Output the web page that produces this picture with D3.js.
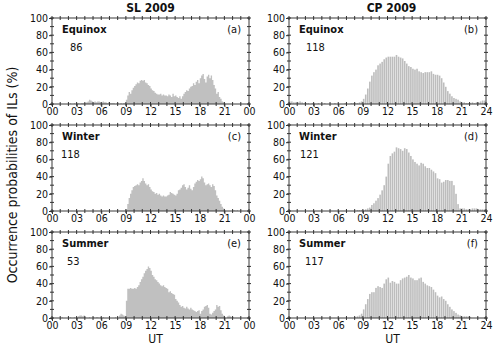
<!DOCTYPE html>
<html>
<head>
<meta charset="utf-8">
<script src="https://cdn.jsdelivr.net/npm/d3@7"></script>
<style>
body { margin: 0; background: #fff; }
text { font-family: "DejaVu Sans Condensed", "Liberation Sans", sans-serif; fill: #111; }
</style>
</head>
<body>
<svg id="chart" width="500" height="351"></svg>
<script>
/* SL 2009, 10-minute bins (6 per hour) */
var slEquinox = [
  0,0,0,0,0,0,  0,0,0,0,0,0,  0,1,0,0,1,0,  1,1,0,1,1,1,
  1,2,3,5,4,3,  2,3,2,3,3,2,  2,3,2,2,1,2,  1,1,1,1,0,1,
  1,0,1,0,1,1,  5,10,14,12,16,19,  21,23,25,24,27,28,  27,28,25,24,22,21,
  18,16,15,13,12,11,  11,12,10,11,10,10,  9,11,10,8,12,9,  10,8,7,9,6,9,
  12,14,16,15,18,20,  21,24,22,26,28,24,  30,33,35,29,25,32,  34,30,33,28,22,18,
  12,14,8,6,3,2,  1,0,0,0,0,0,  0,0,0,0,0,0,  0,0,0,0,0,0
];
var slWinter = [
  0,0,0,0,0,0,  0,0,0,0,0,0,  0,0,0,0,0,0,  0,0,0,0,0,0,
  0,0,0,0,0,0,  0,0,0,0,0,0,  0,0,0,0,0,0,  0,0,0,0,0,0,
  0,0,0,0,0,0,  2,8,15,20,24,28,  29,30,31,30,33,35,  38,35,32,30,31,28,
  25,23,22,20,21,19,  20,18,17,18,17,17,  18,19,22,21,20,19,  18,20,24,25,27,30,
  31,28,25,27,30,26,  24,28,32,34,36,35,  37,40,38,33,30,31,  32,30,28,31,29,24,
  18,15,12,8,5,3,  1,0,0,0,0,0,  1,1,0,1,0,0,  0,0,0,0,0,0
];
var slSummer = [
  0,0,0,0,0,0,  0,1,0,0,0,0,  0,1,0,0,1,0,  1,2,3,3,2,3,
  1,0,0,1,0,0,  1,0,1,1,0,1,  0,1,0,0,0,0,  0,0,0,0,1,0,
  0,3,5,4,3,2,  20,34,34,35,34,34,  35,34,36,38,42,45,  48,52,55,57,60,58,
  55,50,48,45,44,42,  40,38,37,38,36,35,  34,30,31,29,28,27,  22,20,18,15,13,14,
  12,11,13,11,10,12,  10,9,8,7,8,9,  5,8,10,13,14,15,  12,5,4,6,8,10,
  15,13,14,9,5,3,  1,0,2,3,2,1,  1,0,0,0,0,0,  0,0,0,0,0,0
];

/* CP 2009, 15-minute bins (4 per hour) */
var cpEquinox = [
  3,3,2,2,  2,3,2,1,  1,1,0,1,  1,0,1,0,  0,1,0,0,  0,0,1,0,
  0,0,0,1,  0,0,1,1,  1,1,2,3,  6,11,18,26,  33,37,40,45,  47,49,52,54,
  55,55,55,55,  57,55,54,53,  50,47,44,43,  41,40,41,38,  37,36,37,37,  37,38,35,34,
  34,33,30,25,  20,15,12,9,  7,6,5,3,  2,2,1,1,  1,2,1,2,  2,3,4,4
];
var cpWinter = [
  0,0,0,0,  0,0,0,0,  0,0,0,0,  0,0,0,0,  0,0,0,0,  0,0,0,0,
  0,0,0,0,  0,0,0,0,  0,1,1,1,  1,2,3,4,  7,9,12,15,  19,24,30,40,
  55,64,67,69,  74,73,72,70,  73,72,68,64,  60,57,55,53,  56,55,52,50,  50,48,46,44,
  38,37,33,34,  36,36,35,35,  30,20,8,3,  3,3,2,2,  2,3,3,3,  2,2,2,2
];
var cpSummer = [
  0,0,0,0,  0,0,0,0,  0,0,0,0,  0,0,0,0,  0,0,0,0,  0,0,0,0,
  0,0,0,0,  0,0,0,0,  1,2,3,5,  10,16,22,28,  30,30,35,37,  36,35,40,45,
  47,41,43,42,  40,40,44,46,  47,48,50,47,  46,44,44,46,  47,42,40,38,  37,36,33,30,
  26,24,25,22,  20,16,13,10,  8,6,4,3,  2,2,2,2,  1,0,0,0,  0,0,0,0
];

var columnTitles = ["SL 2009", "CP 2009"];
var seasons = ["Equinox", "Winter", "Summer"];
var slCounts = [86, 118, 53];
var cpCounts = [118, 121, 117];
var slLetters = ["(a)", "(c)", "(e)"];
var cpLetters = ["(b)", "(d)", "(f)"];
var yTicks = [0, 20, 40, 60, 80, 100];
var xTicks = [0, 3, 6, 9, 12, 15, 18, 21, 24];
var slXLabels = ["00", "03", "06", "09", "12", "15", "18", "21", "00"];
var cpXLabels = ["00", "03", "06", "09", "12", "15", "18", "21", "24"];

/* layout */
var colLeft = [52, 289];
var panelWidth = 197;
var rowTop = [18, 125, 232];
var panelHeight = 86;
/* where the count sits, per column / row */
var countOffset = [[18, 9, 15], [17, 11, 16]];

var svg = d3.select("#chart");

var columns = [
  { title: columnTitles[0], data: [slEquinox, slWinter, slSummer], counts: slCounts, letters: slLetters, labels: slXLabels, perHour: 6, solid: true },
  { title: columnTitles[1], data: [cpEquinox, cpWinter, cpSummer], counts: cpCounts, letters: cpLetters, labels: cpXLabels, perHour: 4, solid: false }
];

function drawPanel(col, c, r) {
  var x = d3.scaleLinear().domain([0, 24]).range([0, panelWidth]);
  var y = d3.scaleLinear().domain([0, 100]).range([panelHeight, 0]);

  var g = svg.append("g")
    .attr("transform", "translate(" + colLeft[c] + "," + rowTop[r] + ")");

  var values = col.data[r];
  var step = x(1 / col.perHour) - x(0);

  if (col.solid) {
    /* SL: fine bins, drawn as one stepped area */
    var pts = values.map(function(d, i) { return [i / col.perHour, d]; });
    pts.push([24, values[values.length - 1]]);
    var area = d3.area()
      .curve(d3.curveStepAfter)
      .x(function(d) { return x(d[0]); })
      .y0(y(0))
      .y1(function(d) { return y(d[1]); });
    g.append("path")
      .datum(pts)
      .attr("d", area)
      .attr("fill", "#c0c0c0");
  } else {
    /* CP: separate bars */
    g.selectAll("rect.bar")
      .data(values)
      .enter()
      .append("rect")
      .attr("class", "bar")
      .attr("x", function(d, i) { return x(i / col.perHour); })
      .attr("y", function(d) { return y(d); })
      .attr("width", step - 0.45)
      .attr("height", function(d) { return panelHeight - y(d); })
      .attr("fill", "#bdbdbd");
  }

  /* frame */
  g.append("rect")
    .attr("width", panelWidth)
    .attr("height", panelHeight)
    .attr("fill", "none")
    .attr("stroke", "#3a3a3a")
    .attr("stroke-width", 1);

  /* minor ticks crossing the frame: every hour, every 10 % */
  var hours = d3.range(0, 25);
  var tens = d3.range(0, 101, 10);
  var tickColor = "#333";

  g.selectAll("line.tb").data(hours).enter().append("line")
    .attr("x1", function(d) { return x(d); }).attr("x2", function(d) { return x(d); })
    .attr("y1", panelHeight - 2).attr("y2", panelHeight + 2)
    .attr("stroke", tickColor);
  g.selectAll("line.tt").data(hours).enter().append("line")
    .attr("x1", function(d) { return x(d); }).attr("x2", function(d) { return x(d); })
    .attr("y1", -2).attr("y2", 2)
    .attr("stroke", tickColor);
  g.selectAll("line.tl").data(tens).enter().append("line")
    .attr("x1", -2).attr("x2", 2)
    .attr("y1", function(d) { return y(d); }).attr("y2", function(d) { return y(d); })
    .attr("stroke", tickColor);
  g.selectAll("line.tr").data(tens).enter().append("line")
    .attr("x1", panelWidth - 2).attr("x2", panelWidth + 2)
    .attr("y1", function(d) { return y(d); }).attr("y2", function(d) { return y(d); })
    .attr("stroke", tickColor);

  /* labelled axes */
  var bottomAxis = d3.axisBottom(x)
    .tickValues(xTicks)
    .tickFormat(function(d, i) { return col.labels[i]; })
    .tickSize(3)
    .tickPadding(1);
  var gx = g.append("g")
    .attr("transform", "translate(0," + panelHeight + ")")
    .call(bottomAxis);
  gx.select(".domain").remove();
  gx.selectAll("line").attr("stroke", tickColor);
  gx.selectAll("text").attr("font-size", 10.5).attr("fill", "#111");

  var leftAxis = d3.axisLeft(y)
    .tickValues(yTicks)
    .tickSize(3)
    .tickPadding(1);
  var gy = g.append("g").call(leftAxis);
  gy.select(".domain").remove();
  gy.selectAll("line").attr("stroke", tickColor);
  gy.selectAll("text").attr("font-size", 10.5).attr("fill", "#111");

  /* season, count and panel letter */
  g.append("text")
    .attr("x", 10)
    .attr("y", 15)
    .attr("font-size", 11)
    .attr("font-weight", "bold")
    .text(seasons[r]);
  g.append("text")
    .attr("x", countOffset[c][r])
    .attr("y", 33)
    .attr("font-size", 11)
    .text(col.counts[r]);
  g.append("text")
    .attr("x", panelWidth - 8)
    .attr("y", 15)
    .attr("font-size", 11)
    .attr("text-anchor", "end")
    .text(col.letters[r]);

  /* column title and x-axis name */
  if (r === 0) {
    g.append("text")
      .attr("x", panelWidth / 2 + c * 4)
      .attr("y", -6)
      .attr("font-size", 12)
      .attr("font-weight", "bold")
      .attr("text-anchor", "middle")
      .text(col.title);
  }
  if (r === 2) {
    g.append("text")
      .attr("x", panelWidth / 2 + 5)
      .attr("y", panelHeight + 25)
      .attr("font-size", 12)
      .attr("text-anchor", "middle")
      .text("UT");
  }
}

columns.forEach(function(col, c) {
  for (var r = 0; r < 3; ++r) drawPanel(col, c, r);
});

/* shared y title */
svg.append("text")
  .attr("transform", "translate(17,175) rotate(-90)")
  .attr("font-family", "DejaVu Sans, sans-serif")
  .attr("font-size", 14)
  .attr("text-anchor", "middle")
  .text("Occurrence probabilities of ILs (%)");
</script>
</body>
</html>
